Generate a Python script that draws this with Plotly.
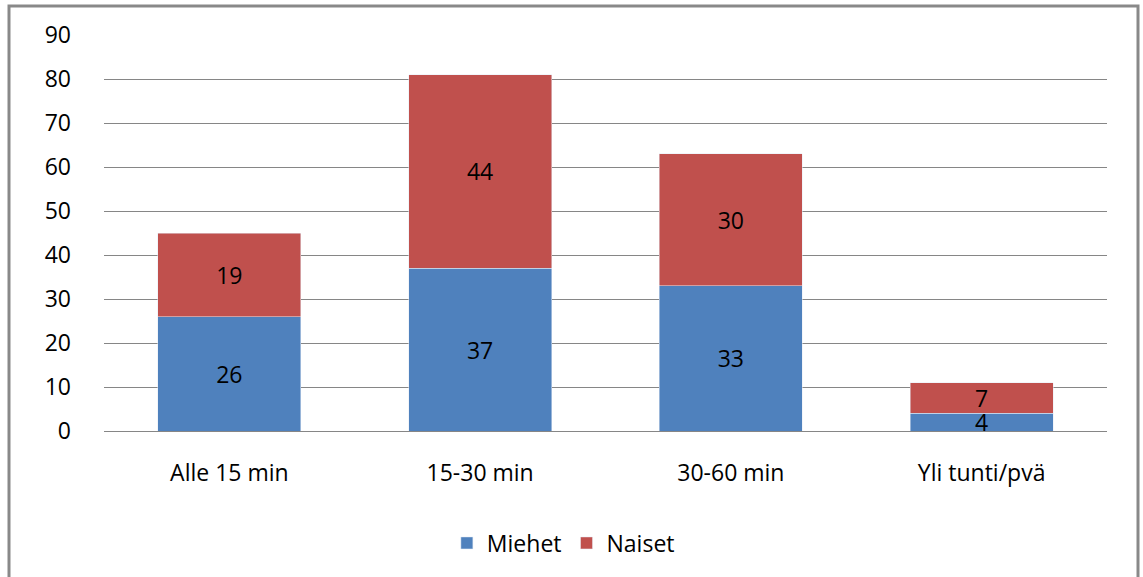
import plotly.graph_objects as go

categories = ["Alle 15 min", "15-30 min", "30-60 min", "Yli tunti/pvä"]
miehet = [26, 37, 33, 4]
naiset = [19, 44, 30, 7]
y_ticks = [0, 10, 20, 30, 40, 50, 60, 70, 80, 90]

W, H = 1143, 577
L, R, T, B = 104, 36, 35, 146
font = "Open Sans"
FS = 23

fig = go.Figure()
fig.add_trace(go.Bar(name="Miehet", x=categories, y=miehet, marker_color="#4F81BD",
                     text=miehet, textposition="inside", insidetextanchor="middle",
                     textangle=0, textfont=dict(color="black", size=FS, family=font)))
fig.add_trace(go.Bar(name="Naiset", x=categories, y=naiset, marker_color="#C0504D",
                     text=naiset, textposition="inside", insidetextanchor="middle",
                     textangle=0, textfont=dict(color="black", size=FS, family=font)))

pw, ph = W - L - R, H - T - B
def px(x): return (x - L) / pw
def py(y): return (H - B - y) / ph

fig.update_layout(
    width=W, height=H, barmode="stack", bargap=0.43,
    margin=dict(l=L, r=R, t=T, b=B),
    paper_bgcolor="white", plot_bgcolor="white",
    font=dict(family=font, size=FS, color="black"),
    uniformtext=dict(minsize=FS, mode="show"),
    showlegend=True,
    legend=dict(orientation="h", x=0.458, xanchor="center", y=py(543), yanchor="middle",
                font=dict(size=FS), itemwidth=30, traceorder="normal"),
    xaxis=dict(showgrid=False, showline=False, ticks="", ticklabelstandoff=26),
    yaxis=dict(range=[0, 90], tickvals=y_ticks, showgrid=True, gridcolor="#868686",
               gridwidth=1.3, zeroline=True, zerolinecolor="#868686", zerolinewidth=1.3,
               showline=False, ticks="", ticklabelstandoff=32),
    shapes=[dict(type="rect", xref="paper", yref="paper",
                 x0=px(9), x1=px(1138), y0=py(590), y1=py(6),
                 line=dict(color="#898989", width=3), fillcolor="rgba(0,0,0,0)", layer="below")],
)
fig.write_html("out.html")
